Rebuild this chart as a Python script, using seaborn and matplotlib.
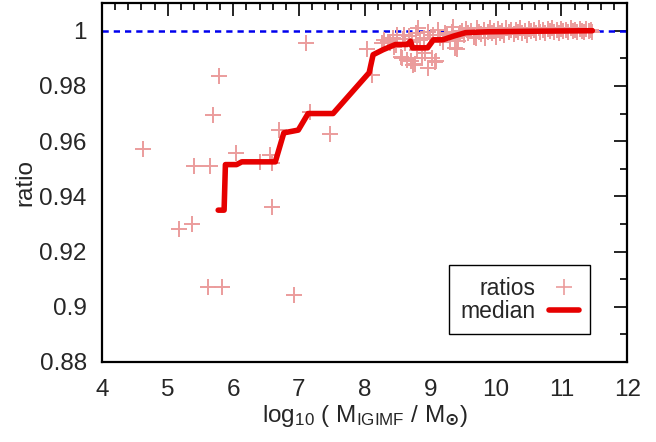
import numpy as np
import pandas as pd
import matplotlib
matplotlib.use("Agg")
import matplotlib.pyplot as plt
import seaborn as sns
from matplotlib.ticker import MultipleLocator
from matplotlib.lines import Line2D

# points isolés (masses faibles)
low_x = [4.62, 5.17, 5.37, 5.40, 5.65, 5.69, 5.78, 5.62, 5.83, 6.04, 6.41, 6.56, 6.59,
         6.59, 6.69, 6.93, 7.11, 7.17, 7.48, 8.03, 8.11]
low_y = [0.957, 0.928, 0.930, 0.951, 0.951, 0.9696, 0.9837, 0.9073, 0.9073, 0.9556, 0.9525,
         0.955, 0.952, 0.936, 0.964, 0.9043, 0.9955, 0.9707, 0.9627, 0.9935, 0.984]

# amas entre 8.2 et 9.4
mid_x = [8.27, 8.36, 8.39, 8.44, 8.50, 8.55, 8.57, 8.62, 8.65, 8.67, 8.70, 8.74, 8.77, 8.80,
         8.82, 8.85, 8.88, 8.92, 8.96, 8.97, 9.02, 9.07, 9.09, 9.12, 9.15, 9.20, 9.26, 9.30,
         9.35, 9.38, 9.41, 8.30, 8.45, 8.58, 8.72, 8.90, 9.05, 9.22, 9.33, 8.48, 8.60, 8.78, 9.00]
mid_y = [0.9957, 0.9960, 0.9955, 0.9975, 0.9985, 0.9906, 0.9900, 0.9957, 0.9895, 0.9980,
         0.9890, 0.9877, 0.9880, 0.9930, 1.0010, 0.9965, 0.9900, 0.9920, 0.9996, 0.9866,
         0.9900, 0.9888, 0.9890, 1.0004, 0.9975, 0.9960, 0.9985, 0.9970, 1.0015, 0.9938,
         0.9935, 0.9965, 0.9940, 0.9970, 0.9960, 0.9975, 0.9985, 0.9990, 0.9995, 0.9950,
         0.9985, 0.9990, 0.9970]

# bande dense proche de 1
high_x = [9.42, 9.45, 9.48, 9.52, 9.55, 9.58, 9.62, 9.66, 9.69, 9.72, 9.75, 9.78, 9.82, 9.84,
          9.88, 9.91, 9.94, 9.97, 10.00, 10.03, 10.06, 10.10, 10.13, 10.16, 10.20, 10.23,
          10.27, 10.30, 10.34, 10.37, 10.40, 10.44, 10.47, 10.51, 10.54, 10.58, 10.61, 10.65,
          10.68, 10.72, 10.75, 10.79, 10.82, 10.86, 10.89, 10.93, 10.96, 11.00, 11.03, 11.07,
          11.10, 11.14, 11.17, 11.21, 11.24, 11.28, 11.31, 11.35, 11.38, 11.42, 11.45, 11.47]
high_y = [0.9964, 0.9990, 0.9998, 0.9985, 1.0005, 0.9992, 1.0000, 0.9978, 0.9972, 1.0008,
          0.9995, 0.9988, 1.0002, 0.9975, 0.9996, 1.0010, 0.9990, 1.0000, 0.9978, 1.0006,
          0.9993, 0.9999, 0.9984, 1.0008, 0.9996, 1.0001, 0.9988, 1.0004, 0.9997, 1.0010,
          0.9992, 1.0000, 0.9986, 1.0006, 0.9998, 1.0002, 0.9990, 1.0008, 0.9996, 1.0001,
          0.9993, 1.0005, 0.9999, 1.0009, 0.9995, 1.0002, 0.9991, 1.0006, 0.9998, 1.0003,
          0.9994, 1.0008, 0.9999, 1.0002, 0.9996, 1.0007, 1.0000, 0.9994, 1.0005, 1.0000,
          1.0003, 0.9997]

# médiane
median_x = [5.77, 5.86, 5.88, 6.05, 6.13, 6.64, 6.77, 6.99, 7.14, 7.52, 8.07, 8.13, 8.28,
            8.47, 8.65, 8.70, 8.73, 8.96, 9.05, 9.19, 9.35, 9.54, 9.87, 10.5, 11.47]
median_y = [0.935, 0.935, 0.9515, 0.9515, 0.9525, 0.9525, 0.963, 0.964, 0.970, 0.970, 0.9848,
            0.9913, 0.9931, 0.995, 0.995, 0.9962, 0.9938, 0.9938, 0.9967, 0.9967, 0.998,
            0.9993, 0.9996, 0.9998, 1.0]

ratios = pd.DataFrame({"x": low_x + mid_x + high_x, "y": low_y + mid_y + high_y})
median = pd.DataFrame({"x": median_x, "y": median_y})

sns.set_style("white")
plt.rcParams["font.family"] = ["Liberation Sans", "DejaVu Sans"]
plt.rcParams["mathtext.fontset"] = "custom"
plt.rcParams["mathtext.rm"] = "Liberation Sans"
plt.rcParams["mathtext.it"] = "Liberation Sans"
plt.rcParams["mathtext.bf"] = "DejaVu Sans:bold"

fig = plt.figure(figsize=(6.56, 4.42), dpi=100)
ax = fig.add_axes([0.1555, 0.181, 0.8005, 0.812])

ratio_color = "#eb9c9c"
sns.scatterplot(data=ratios, x="x", y="y", marker="+", s=120, linewidth=1.4,
                color=ratio_color, ax=ax, zorder=2, legend=False)
sns.lineplot(data=median, x="x", y="y", sort=False, estimator=None, color="#e60000",
             linewidth=4, ax=ax, zorder=3, legend=False)
ax.axhline(1.0, color="#0000ee", linestyle=(0, (2.5, 2)), linewidth=1.8, zorder=1)

ax.set_xlim(4, 12)
ax.set_ylim(0.88, 1.01)
ax.xaxis.set_major_locator(MultipleLocator(1))
ax.xaxis.set_minor_locator(MultipleLocator(0.2))
ax.yaxis.set_major_locator(MultipleLocator(0.02))
ax.yaxis.set_minor_locator(MultipleLocator(0.01))
ax.yaxis.set_major_formatter(plt.FuncFormatter(lambda v, p: f"{v:g}" if v <= 1.0001 else ""))
ax.tick_params(which="both", direction="in", top=True, right=True, width=1.2,
               labelsize=17.5, color="black")
ax.tick_params(axis="x", pad=12)
ax.tick_params(axis="y", pad=11)
ax.tick_params(which="major", length=9.5)
ax.tick_params(which="minor", length=5)
for sp in ax.spines.values():
    sp.set_linewidth(1.6)
    sp.set_color("black")

ax.set_xlabel("log$_{10}$ ( M$_{\\mathrm{IGIMF}}$ / M$_{\\mathbf{\u2299}}$)", fontsize=17.5, labelpad=2)
ax.set_ylabel("ratio", fontsize=17.5, labelpad=2)

handles = [
    Line2D([], [], marker="+", linestyle="none", color=ratio_color, markersize=11,
           markeredgewidth=1.2),
    Line2D([], [], color="#e60000", linewidth=4),
]
leg = ax.legend(handles, ["ratios", "median"], loc="lower right", markerfirst=False,
                fontsize=16.5, fancybox=False, framealpha=1, edgecolor="black",
                handlelength=1.3, handletextpad=0.6, borderpad=0.5, labelspacing=0.0,
                borderaxespad=0, bbox_to_anchor=(0.93, 0.078))
leg.get_frame().set_linewidth(1.0)
for t in leg.get_texts():
    t.set_ha("right")

fig.savefig("out.png", dpi=100)
